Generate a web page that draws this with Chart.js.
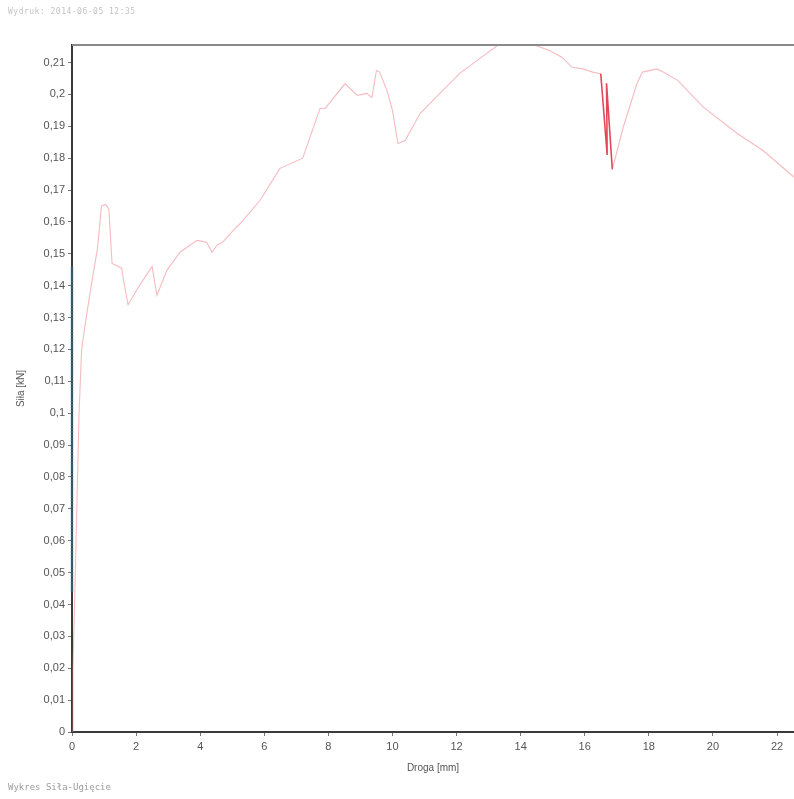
<!DOCTYPE html>
<html>
<head>
<meta charset="utf-8">
<script src="https://cdn.jsdelivr.net/npm/chart.js@4/dist/chart.umd.min.js"></script>
<style>
  html, body { margin: 0; padding: 0; background: #fff; }
  #wrap { position: relative; width: 794px; height: 799px; overflow: hidden; }
  #c { position: absolute; left: 0; top: 0; }
  .note { position: absolute; font-family: "DejaVu Sans Mono", "Liberation Mono", monospace; white-space: pre; }
</style>
</head>
<body>
<div id="wrap">
  <canvas id="c" width="794" height="799"></canvas>
  <div class="note" style="left:8px; top:7px; font-size:8px; color:#c4c4c4; letter-spacing:0.5px;">Wydruk: 2014-06-05 12:35</div>
  <div class="note" style="left:8px; top:782px; font-size:9px; color:#9a9a9a;">Wykres Siła-Ugięcie</div>
</div>
<script>
// ---- data ----
const drogaMm = [0, 0.03, 0.08, 0.15, 0.22, 0.3, 0.4, 0.55, 0.8, 0.92, 1.05, 1.15, 1.25, 1.55, 1.62, 1.75, 2.1, 2.5, 2.65, 2.96, 3.37, 3.9, 4.2, 4.37, 4.52, 4.7, 5.09, 5.25, 5.87, 6.49, 7.2, 7.74, 7.9, 8.52, 8.9, 9.2, 9.36, 9.5, 9.6, 9.83, 10.0, 10.17, 10.4, 10.86, 11.48, 12.1, 12.73, 13.3, 14.0, 14.9, 15.3, 15.6, 15.95, 16.25, 16.5, 16.7, 16.68, 16.86, 17.2, 17.63, 17.8, 18.25, 18.45, 18.9, 19.7, 20.75, 21.56, 22.4, 22.6];
const silaKN   = [0, 0.02, 0.04, 0.07, 0.10, 0.12, 0.127, 0.137, 0.152, 0.165, 0.1655, 0.164, 0.147, 0.1455, 0.141, 0.134, 0.140, 0.146, 0.137, 0.1448, 0.1505, 0.1542, 0.1536, 0.1505, 0.1527, 0.1536, 0.158, 0.1595, 0.1668, 0.1768, 0.180, 0.1956, 0.1956, 0.2034, 0.1997, 0.2003, 0.199, 0.2075, 0.207, 0.2012, 0.195, 0.1846, 0.1856, 0.194, 0.2003, 0.2066, 0.2113, 0.2155, 0.217, 0.2138, 0.2116, 0.2085, 0.208, 0.207, 0.2065, 0.181, 0.2035, 0.1765, 0.1897, 0.2034, 0.207, 0.208, 0.207, 0.2044, 0.196, 0.1878, 0.1824, 0.1752, 0.1735];
const spikeRange = [16.4, 16.8];
// scan artefact on the left axis (blue dotted trace)
const overlayX = [0, 0];
const overlayY = [0.044, 0.146];
// tick labels
const xTicks = [0, 2, 4, 6, 8, 10, 12, 14, 16, 18, 20, 22];
const yTicks = [0, 0.01, 0.02, 0.03, 0.04, 0.05, 0.06, 0.07, 0.08, 0.09, 0.1, 0.11, 0.12, 0.13, 0.14, 0.15, 0.16, 0.17, 0.18, 0.19, 0.2, 0.21];
const xTitle = 'Droga [mm]';
const yTitle = 'Siła [kN]';

const curve = drogaMm.map((x, i) => ({ x: x, y: silaKN[i] }));
const overlay = overlayX.map((x, i) => ({ x: x, y: overlayY[i] }));

const PINK = 'rgba(236,120,130,0.5)';
const RED = 'rgba(222,40,60,0.85)';
const inSpike = (c) => c.p0.parsed.x >= spikeRange[0] && c.p0.parsed.x <= spikeRange[1];

const frameTop = {
  id: 'frameTop',
  afterDatasetsDraw(chart) {
    const { ctx, chartArea } = chart;
    ctx.save();
    ctx.strokeStyle = '#8a8a8a';
    ctx.lineWidth = 2;
    ctx.beginPath();
    ctx.moveTo(chartArea.left, chartArea.top);
    ctx.lineTo(chartArea.right, chartArea.top);
    ctx.stroke();
    ctx.restore();
  }
};

const FONT = { family: '"Liberation Sans", Arial, sans-serif', size: 11 };

new Chart(document.getElementById('c'), {
  type: 'scatter',
  data: {
    datasets: [
      {
        data: curve,
        showLine: true,
        borderWidth: 1.1,
        borderColor: PINK,
        pointRadius: 0,
        tension: 0,
        segment: {
          borderColor: (c) => inSpike(c) ? RED : PINK,
          borderWidth: (c) => inSpike(c) ? 1.6 : 1.1
        }
      },
      {
        data: overlay,
        showLine: true,
        clip: false,
        borderWidth: 2.5,
        borderColor: 'rgba(55,110,140,0.85)',
        borderDash: [2, 1],
        pointRadius: 0
      }
    ]
  },
  options: {
    responsive: false,
    animation: false,
    events: [],
    layout: { padding: { left: 0, top: 45, right: 0, bottom: 0 } },
    plugins: { legend: { display: false }, tooltip: { enabled: false } },
    scales: {
      x: {
        type: 'linear',
        min: 0,
        max: 22.53,
        afterBuildTicks: (s) => { s.ticks = xTicks.map(v => ({ value: v })); },
        afterFit: (s) => { s.height = 67; },
        grid: { drawOnChartArea: false, drawTicks: true, tickLength: 4, color: '#777' },
        border: { color: '#3a3a3a', width: 2 },
        ticks: { color: '#555', font: FONT, padding: 4, maxRotation: 0, callback: (v) => String(v) },
        title: { display: true, text: xTitle, color: '#555', font: { family: FONT.family, size: 10 }, padding: { top: 2, bottom: 25 } }
      },
      y: {
        type: 'linear',
        min: 0,
        max: 0.2155,
        afterBuildTicks: (s) => { s.ticks = yTicks.map(v => ({ value: v })); },
        afterFit: (s) => { s.width = 72; },
        grid: { drawOnChartArea: false, drawTicks: true, tickLength: 4, color: '#777' },
        border: { color: '#3a3a3a', width: 2 },
        ticks: { color: '#555', font: FONT, padding: 3, callback: (v) => String(Math.round(v * 100) / 100).replace('.', ',') },
        title: { display: true, text: yTitle, color: '#555', font: { family: FONT.family, size: 10 }, padding: { top: 15, bottom: 0 } }
      }
    }
  },
  plugins: [frameTop]
});
</script>
</body>
</html>
